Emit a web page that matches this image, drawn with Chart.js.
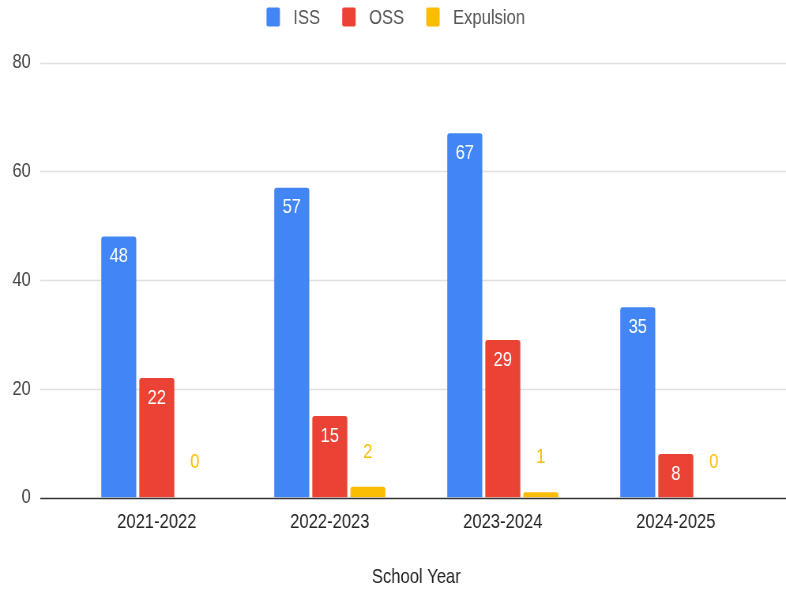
<!DOCTYPE html>
<html>
<head>
<meta charset="utf-8">
<script src="https://cdn.jsdelivr.net/npm/chart.js@4.4.1/dist/chart.umd.min.js"></script>
<style>
  html, body { margin: 0; padding: 0; background: #fff; }
  /* drawn on a wider canvas and squeezed to 786px, like the reference's condensed look */
  #chart { display: block; width: 786px; height: 590px; }
</style>
</head>
<body>
<canvas id="chart" width="995" height="590" style="width:786px;height:590px"></canvas>
<script>
// School years and discipline counts
const years = ['2021-2022', '2022-2023', '2023-2024', '2024-2025'];
const issValues = [48, 57, 67, 35];
const ossValues = [22, 15, 29, 8];
const expulsionValues = [0, 2, 1, 0];
const yTicks = [0, 20, 40, 60, 80];
const colors = ['#4285f4', '#ea4335', '#fbbc04'];

const FONT = '"Liberation Sans", Arial, sans-serif';
const GRID_LEFT = 51;

// full-width gridlines + dark baseline
const gridPlugin = {
  id: 'gridLines',
  beforeDatasetsDraw(chart) {
    const { ctx, scales: { y } } = chart;
    ctx.save();
    ctx.strokeStyle = '#e0e0e0';
    ctx.lineWidth = 1.5;
    yTicks.forEach(v => {
      if (v === 0) return;
      const py = Math.round(y.getPixelForValue(v)) + 0.5;
      ctx.beginPath();
      ctx.moveTo(GRID_LEFT, py);
      ctx.lineTo(chart.width, py);
      ctx.stroke();
    });
    ctx.restore();
  },
  afterDatasetsDraw(chart) {
    const { ctx, scales: { y } } = chart;
    const py = Math.round(y.getPixelForValue(0)) + 0.5;
    ctx.save();
    ctx.strokeStyle = '#333';
    ctx.lineWidth = 1.6;
    ctx.beginPath();
    ctx.moveTo(GRID_LEFT, py);
    ctx.lineTo(chart.width, py);
    ctx.stroke();
    ctx.restore();
  }
};

// value labels: inside top for ISS/OSS, above the bar for Expulsion
const valueLabels = {
  id: 'valueLabels',
  afterDatasetsDraw(chart) {
    const { ctx } = chart;
    ctx.save();
    ctx.font = '21px ' + FONT;
    ctx.textAlign = 'center';
    ctx.textBaseline = 'middle';
    chart.data.datasets.forEach((ds, i) => {
      const meta = chart.getDatasetMeta(i);
      meta.data.forEach((bar, j) => {
        const v = ds.data[j];
        if (i < 2) {
          ctx.fillStyle = '#ffffff';
          ctx.fillText(String(v), bar.x, bar.y + 20);
        } else {
          ctx.fillStyle = '#fbbc04';
          ctx.fillText(String(v), bar.x, bar.y - 35);
        }
      });
    });
    ctx.restore();
  }
};

// Google-style legend across the top
const topLegend = {
  id: 'topLegend',
  afterDraw(chart) {
    const { ctx } = chart;
    const sw = 17, sh = 19, toText = 34, itemGap = 28, cy = 17, cx = 501;
    ctx.save();
    ctx.font = '21px ' + FONT;
    ctx.textBaseline = 'middle';
    ctx.textAlign = 'left';
    const items = chart.data.datasets.map(ds => ({ text: ds.label, color: ds.backgroundColor, w: ctx.measureText(ds.label).width }));
    const total = items.reduce((s, it) => s + toText + it.w, 0) + itemGap * (items.length - 1);
    let x = cx - total / 2;
    items.forEach(it => {
      ctx.fillStyle = it.color;
      ctx.beginPath();
      ctx.roundRect(x, cy - sh / 2, sw, sh, 2);
      ctx.fill();
      ctx.fillStyle = '#555';
      ctx.fillText(it.text, x + toText, cy + 1);
      x += toText + it.w + itemGap;
    });
    ctx.restore();
  }
};

new Chart(document.getElementById('chart'), {
  type: 'bar',
  data: {
    labels: years,
    datasets: [
      { label: 'ISS', data: issValues, backgroundColor: colors[0] },
      { label: 'OSS', data: ossValues, backgroundColor: colors[1] },
      { label: 'Expulsion', data: expulsionValues, backgroundColor: colors[2] }
    ]
  },
  options: {
    responsive: false,
    animation: false,
    devicePixelRatio: 1,
    layout: { padding: { left: 0, right: 30, top: 60, bottom: 0 } },
    datasets: {
      bar: { categoryPercentage: 0.66, barPercentage: 0.92, borderRadius: 3, borderSkipped: 'start' }
    },
    plugins: {
      legend: { display: false },
      tooltip: { enabled: false }
    },
    scales: {
      x: {
        grid: { display: false, drawTicks: false },
        border: { display: false },
        ticks: { color: '#222', font: { size: 21, family: FONT }, padding: 12 },
        title: {
          display: true,
          text: 'School Year',
          color: '#222',
          font: { size: 21, family: FONT },
          padding: { top: 18, bottom: 0 }
        }
      },
      y: {
        min: 0,
        max: 80,
        grid: { display: false, drawTicks: false },
        border: { display: false },
        ticks: { stepSize: 20, color: '#444', font: { size: 21, family: FONT }, padding: 50 },
        afterFit(scale) { scale.width = 89; }
      }
    }
  },
  plugins: [gridPlugin, valueLabels, topLegend]
});
</script>
</body>
</html>
